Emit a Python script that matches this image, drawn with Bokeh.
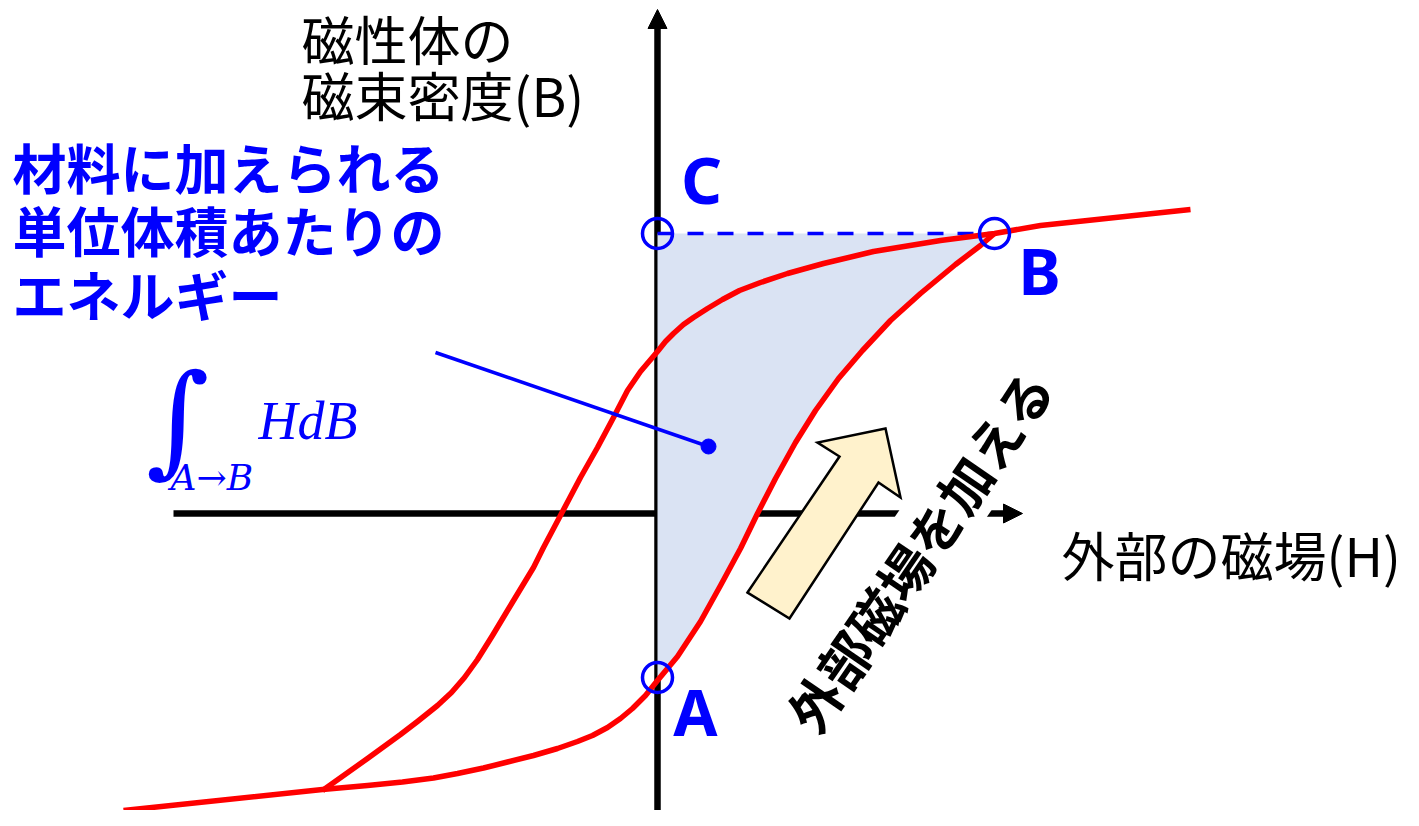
from bokeh.plotting import figure
from bokeh.models import Range1d, Arrow, NormalHead, Label
from bokeh.core.properties import value
from bokeh.embed import file_html
from bokeh.resources import INLINE

# ---- data (H: external field, B: flux density, arbitrary units) ----
# descending branch of the hysteresis loop (from saturation, right end, to lower left)
upper_H = [5.33, 3.83, 3.37, 2.83, 2.16, 1.66, 1.30, 1.03, 0.82, 0.65, 0.50, 0.36, 0.26, 0.16, 0.08,
           0.00, -0.17, -0.30, -0.44, -0.60, -0.77, -0.96, -1.14, -1.24, -1.50, -1.65, -1.80,
           -1.93, -2.06, -2.20, -2.40, -2.57, -2.90, -3.35]
upper_B = [3.04, 2.88, 2.80, 2.73, 2.62, 2.50, 2.40, 2.31, 2.23, 2.14, 2.05, 1.96, 1.89, 1.80, 1.72,
           1.62, 1.42, 1.23, 0.96, 0.66, 0.36, 0.00, -0.34, -0.54, -0.97, -1.22, -1.46,
           -1.64, -1.79, -1.92, -2.08, -2.21, -2.45, -2.77]
# ascending branch (from lower-left end up to point B)
lower_H = [-5.34, -3.35, -2.90, -2.55, -2.24, -2.00, -1.74, -1.50, -1.24, -1.00, -0.80, -0.65, -0.50,
           -0.37, -0.25, -0.12, 0.00, 0.20, 0.43, 0.63, 0.83, 1.00, 1.18, 1.38, 1.58, 1.81, 2.05,
           2.33, 2.63, 2.98, 3.23, 3.37]
lower_B = [-2.97, -2.76, -2.72, -2.685, -2.645, -2.60, -2.545, -2.485, -2.42, -2.35, -2.28, -2.22, -2.14,
           -2.05, -1.95, -1.82, -1.67, -1.43, -1.08, -0.72, -0.35, 0.00, 0.35, 0.71, 1.03, 1.35, 1.63,
           1.93, 2.20, 2.49, 2.68, 2.80]

# marked points
pt_names = ["A", "B", "C"]
pt_H = [0.00, 3.37, 0.00]
pt_B = [-1.64, 2.80, 2.80]

# block arrow ("apply external field")
arrow_H = [0.90, 1.82, 1.60, 2.28, 2.43, 2.21, 1.32]
arrow_B = [-0.79, 0.57, 0.71, 0.85, 0.16, 0.31, -1.05]

# texts
y_title = ["磁性体の", "磁束密度(B)"]
x_title = "外部の磁場(H)"
energy_lines = ["材料に加えられる", "単位体積あたりの", "エネルギー"]
apply_text = "外部磁場を加える"

# ---- figure ----
p = figure(width=1403, height=810, x_range=Range1d(-6.57, 7.46), y_range=Range1d(-2.97, 5.13),
           output_backend="svg", toolbar_location=None, min_border=0,
           x_axis_location=None, y_axis_location=None)
p.grid.visible = False
p.outline_line_color = None
p.background_fill_color = "white"

JP = value("Noto Sans CJK JP")
BLUE = "#0000FF"

# axes (drawn underneath)
p.add_layout(Arrow(end=NormalHead(size=19, fill_color="black", line_color="black", line_width=1),
                   x_start=0, y_start=-3.3, x_end=0, y_end=5.04,
                   line_color="black", line_width=6.5, level="underlay"))
p.add_layout(Arrow(end=None, x_start=-4.84, y_start=0, x_end=3.50, y_end=0,
                   line_color="black", line_width=6.5, level="underlay"))

# shaded energy area: from A along ascending branch to B, then back to C
i0 = next(i for i, h in enumerate(lower_H) if h >= 0)
fill_H = lower_H[i0:] + [pt_H[2]]
fill_B = lower_B[i0:] + [pt_B[2]]
p.patch(fill_H, fill_B, fill_color="#DAE3F3", line_color=None)

# dashed C-B
p.line([pt_H[2], pt_H[1]], [pt_B[2], pt_B[1]], line_color=BLUE, line_width=3.5, line_dash="16 14")

# hysteresis curves
p.line(upper_H, upper_B, line_color="#FF0000", line_width=5.5, line_join="round")
p.line(lower_H, lower_B, line_color="#FF0000", line_width=5.5, line_join="round")

# point circles
p.scatter(pt_H, pt_B, marker="circle", size=30, fill_color=None, line_color=BLUE, line_width=3.5)

# point letters
p.text([0.38, 3.82, 0.44], [-1.975, 2.435, 3.345],
       text=pt_names, text_color=BLUE, text_font=value("Noto Sans"), text_font_style="bold",
       text_font_size="64px", text_align="center", text_baseline="middle")

# block arrow
p.patch(arrow_H, arrow_B, fill_color="#FFF2CC", line_color="black", line_width=2.5, line_join="miter")

# leader line
p.line([-2.22, 0.51], [1.61, 0.67], line_color=BLUE, line_width=3.5)
p.scatter([0.51], [0.67], marker="circle", size=15, fill_color=BLUE, line_color=BLUE)

# axis titles
p.text([-3.56, -3.56], [4.755, 4.195], text=y_title, text_color="black", text_font=JP,
       text_font_size="53px", text_align="left", text_baseline="middle")
p.text([4.04], [-0.405], text=[x_title], text_color="black", text_font=JP,
       text_font_size="53px", text_align="left", text_baseline="middle")

# energy description
p.text([-6.45] * 3, [3.466, 2.836, 2.196], text=energy_lines, text_color=BLUE, text_font=JP,
       text_font_style="bold", text_font_size="54px", text_align="left", text_baseline="middle")

# integral expression
p.text([-4.80], [0.946], text=["∫"], text_color=BLUE, text_font=value("DejaVu Serif"),
       text_font_size="122px", text_align="center", text_baseline="middle")
p.text([-3.99], [0.93], text=["HdB"], text_color=BLUE, text_font=value("Liberation Serif"),
       text_font_style="italic", text_font_size="54px", text_align="left", text_baseline="middle")
p.text([-4.87], [0.36], text=["A→B"], text_color=BLUE, text_font=value("DejaVu Serif"),
       text_font_style="italic", text_font_size="36px", text_align="left", text_baseline="middle")

# rotated annotation (its white box interrupts the H axis)
p.add_layout(Label(x=2.61, y=-0.36, text=apply_text, angle=0.97, text_align="center",
                   text_baseline="middle", text_font="Noto Sans CJK JP", text_font_style="bold",
                   text_font_size="53px", text_color="black",
                   background_fill_color="white", background_fill_alpha=1.0, padding=0))

# H axis tip drawn on top
p.add_layout(Arrow(end=NormalHead(size=19, fill_color="black", line_color="black", line_width=1),
                   x_start=3.46, y_start=0, x_end=3.65, y_end=0,
                   line_color="black", line_width=6.5))

open("out.html", "w").write(file_html(p, INLINE))
